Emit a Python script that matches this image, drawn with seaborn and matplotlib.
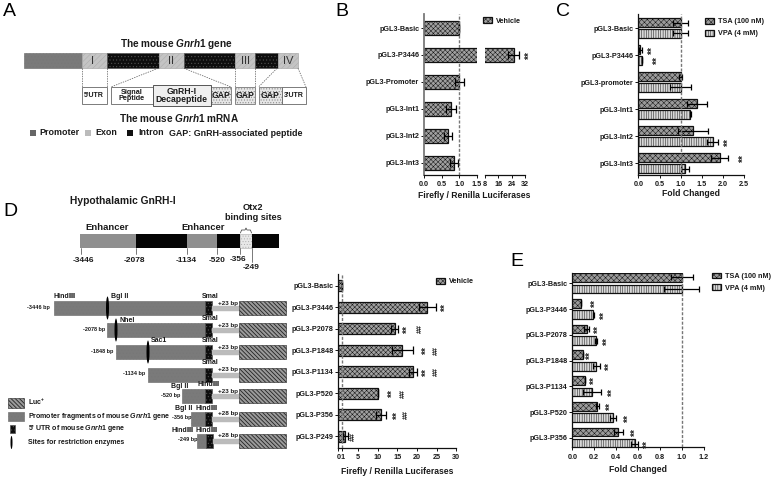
import matplotlib
matplotlib.use("Agg")
import matplotlib.pyplot as plt
from matplotlib.patches import Rectangle, Ellipse
import seaborn as sns
import pandas as pd

W, H = 773, 480

# ---------- data ----------
b_labels = ["pGL3-Basic", "pGL3-P3446", "pGL3-Promoter", "pGL3-Int1", "pGL3-Int2", "pGL3-Int3"]
b_vals = [1.0, 25.2, 1.0, 0.77, 0.69, 0.85]
b_errs = [0.0, 3.4, 0.13, 0.13, 0.12, 0.12]

c_labels = ["pGL3-Basic", "pGL3-P3446", "pGL3-promoter", "pGL3-Int1", "pGL3-Int2", "pGL3-Int3"]
c_tsa = [1.0, 0.05, 1.0, 1.39, 1.29, 1.92]
c_tsa_err = [0.17, 0.03, 0.03, 0.24, 0.35, 0.2]
c_vpa = [1.0, 0.09, 1.0, 1.23, 1.75, 1.1]
c_vpa_err = [0.17, 0.0, 0.25, 0.02, 0.12, 0.1]

d_labels = ["pGL3-Basic", "pGL3-P3446", "pGL3-P2078", "pGL3-P1848", "pGL3-P1134", "pGL3-P520", "pGL3-P356", "pGL3-P249"]
d_vals = [1.0, 22.6, 14.3, 16.3, 19.0, 10.0, 10.8, 1.8]
d_errs = [0.0, 2.2, 0.8, 2.7, 1.0, 0.0, 1.3, 0.7]

e_labels = ["pGL3-Basic", "pGL3-P3446", "pGL3-P2078", "pGL3-P1848", "pGL3-P1134", "pGL3-P520", "pGL3-P356"]
e_tsa = [1.0, 0.08, 0.13, 0.095, 0.12, 0.23, 0.42]
e_tsa_err = [0.1, 0.0, 0.02, 0.0, 0.0, 0.01, 0.04]
e_vpa = [1.0, 0.19, 0.215, 0.22, 0.18, 0.37, 0.57]
e_vpa_err = [0.16, 0.005, 0.01, 0.03, 0.08, 0.03, 0.03]

treatments = ["TSA (100 nM)", "VPA (4 mM)"]

# significance marks: (category index, series, x value)
c_marks = [(1, 0, 0.29), (1, 1, 0.41), (4, 1, 2.09), (5, 0, 2.43)]
d_stars = [(1, 26.7), (2, 17.0), (3, 21.9), (4, 21.9), (5, 13.3), (6, 14.6)]
d_hash = [(2, 20.9), (3, 25.0), (4, 25.0), (5, 16.5), (6, 17.3), (7, 3.9)]
e_marks = [(1, 0, 0.19), (1, 1, 0.28), (2, 0, 0.22), (2, 1, 0.30), (3, 0, 0.146), (3, 1, 0.32),
           (4, 0, 0.186), (4, 1, 0.35), (5, 0, 0.335), (5, 1, 0.50), (6, 0, 0.56), (6, 1, 0.67)]

# schematic A
gene_segments = [(24, 82, "promoter"), (82, 106.5, "exon"), (106.5, 159, "intron"), (159, 184, "exon"),
                 (184, 235, "intron"), (235, 254.5, "exon"), (254.5, 278, "intron"), (278, 298, "exon")]
exon_names = [("I", 93), ("II", 171), ("III", 245), ("IV", 288)]
mrna_boxes = [(81.5, 107, "5'UTR", 5.0, "white"), (111, 152.5, "Signal\nPeptide", 5.2, "white"),
              (211, 231, "GAP", 6.2, "dots"), (235, 255, "GAP", 6.2, "dots"),
              (258.5, 282, "GAP", 6.2, "dots"), (282, 306, "3'UTR", 5.0, "white")]
connectors = [(82, 82), (106.5, 106.5), (158, 111), (184, 231), (235, 235), (254.5, 254.5), (277, 258.5), (298, 306)]
a_legend = [(30, "#666666", "Promoter", 39), (85, "#bbbbbb", "Exon", 95), (127, "#111111", "Intron", 138)]

# schematic D (map)
map_segments = [(80, 135.5, "promoter"), (135.5, 187, "black"), (187, 217, "promoter"),
                (217, 240, "black"), (240, 251.5, "otx"), (251.5, 278.5, "black")]
map_ticks = [(80.5, 83, "-3446", 260), (135.5, 134, "-2078", 260), (187, 186, "-1134", 260),
             (217, 217, "-520", 260), (240, 238, "-356", 259.5), (251.5, 251, "-249", 267.5)]

# constructs: bar top, promoter start, label x, label text, plus text
constructs = [(301, 54, 50, "-3446 bp", "+23 bp"), (323, 107, 105, "-2078 bp", "+23 bp"),
              (345, 116, 113, "-1848 bp", "+23 bp"), (368, 148, 145, "-1134 bp", "+23 bp"),
              (389, 182, 180, "-520 bp", "+23 bp"), (412, 191, 191, "-356 bp", "+28 bp"),
              (434, 197, 197, "-249 bp", "+28 bp")]
enzymes = [(107.5, 308), (116, 330), (148, 352)]
site_labels = [("HindⅢ", 54, 297), ("Bgl II", 111, 297), ("SmaI", 201.5, 297),
               ("NheI", 119, 320), ("SmaI", 201.5, 319),
               ("Sac1", 151, 341), ("SmaI", 202, 341),
               ("SmaI", 202, 363),
               ("Bgl II", 171, 386), ("HindⅢ", 197, 385),
               ("Bgl II", 175, 408), ("HindⅢ", 196, 408),
               ("HindⅢ", 172, 430), ("HindⅢ", 196, 430)]

# ---------- style ----------
sns.set_theme(style="white")
plt.rcParams["font.family"] = ["Liberation Sans", "DejaVu Sans"]
plt.rcParams["font.weight"] = "bold"
plt.rcParams["mathtext.fontset"] = "custom"
plt.rcParams["mathtext.rm"] = "Liberation Sans:bold"
plt.rcParams["mathtext.it"] = "Liberation Sans:italic:bold"
plt.rcParams["mathtext.bf"] = "Liberation Sans:bold"
plt.rcParams["hatch.linewidth"] = 0.35
plt.rcParams["axes.labelweight"] = "bold"

fig = plt.figure(figsize=(W / 100, H / 100), dpi=100, facecolor="white")


def px_axes(x0, x1, ytop, ybot):
    return fig.add_axes([x0 / W, 1 - ybot / H, (x1 - x0) / W, (ybot - ytop) / H], facecolor="none")


TXT = "#1a1a1a"
ov = fig.add_axes([0, 0, 1, 1], zorder=-1)
ov.set_xlim(0, W)
ov.set_ylim(H, 0)
ov.axis("off")


def t(x, y, s, size=5.0, ha="left", va="center", weight="bold", **kw):
    ov.text(x, y, s, fontsize=size, ha=ha, va=va, fontweight=weight, color=kw.pop("color", TXT), **kw)


def box(x0, x1, y0, y1, kind="white", lw=0.5):
    styles = {
        "white": dict(fc="white", ec="#666666"),
        "dots": dict(fc="#e6e6e6", ec="#777777", hatch="......"),
        "light": dict(fc="#efefef", ec="#555555"),
        "promoter": dict(fc="#7a7a7a", ec="#777777", hatch="....."),
        "exon": dict(fc="#c4c4c4", ec="#aaaaaa", hatch="//////"),
        "intron": dict(fc="#0d0d0d", ec="#555555", hatch="....."),
        "black": dict(fc="#050505", ec="#050505"),
        "otx": dict(fc="#e8e8e8", ec="#aaaaaa", hatch="......"),
        "luc": dict(fc="#9a9a9a", ec="#222222", hatch="\\\\\\\\\\\\\\\\"),
        "grayband": dict(fc="#bcbcbc", ec="#bbbbbb", hatch="------"),
    }
    st = styles[kind]
    p = Rectangle((x0, y0), x1 - x0, y1 - y0, lw=lw, fill=True, **st)
    if kind == "luc" and hasattr(p, "set_hatch_linewidth"):
        p.set_hatch_linewidth(0.6)
    ov.add_patch(p)


# Panel letters
for letter, x, y in [("A", 3, 12), ("B", 335, 12), ("C", 556, 12), ("D", 3, 212), ("E", 510, 262)]:
    t(x, y, letter, size=14, weight="normal", color="black")

# ---------- Panel A ----------
t(176, 44, r"The mouse $\mathit{Gnrh1}$ gene", size=7.2, ha="center")
for x0, x1, kind in gene_segments:
    box(x0, x1, 52.7, 68.3, kind)
for name, x in exon_names:
    t(x, 61, name, size=8, ha="center", weight="normal", color="#333333")
for xa, xb in connectors:
    ov.plot([xa, xb], [68.3, 87], color="#555555", lw=0.5, ls=(0, (2, 1.5)))
for x0, x1, s, fs, kind in mrna_boxes:
    box(x0, x1, 87, 104, kind, lw=0.6)
    t((x0 + x1) / 2, 95.5, s, size=fs, ha="center", linespacing=0.9)
box(152.5, 211, 85, 106, "light", lw=0.7)
t(181.5, 95.5, "GnRH-I\nDecapeptide", size=6.2, ha="center", linespacing=1.0)
t(179, 118, r"The mouse $\mathit{Gnrh1}$ mRNA", size=7.2, ha="center")
for x, c, s, tx in a_legend:
    ov.add_patch(Rectangle((x, 130), 6, 6, fc=c, ec="none"))
    t(tx, 132.5, s, size=6.4)
t(169, 133, "GAP: GnRH-associated peptide", size=6.4)

# ---------- Panel D schematics ----------
t(70, 201, "Hypothalamic GnRH-I", size=7.4)
for x0, x1, kind in map_segments:
    ov.add_patch(Rectangle((x0, 234), x1 - x0, 14, fc={"promoter": "#8f8f8f", "black": "#050505", "otx": "#e8e8e8"}[kind],
                           ec="#aaaaaa" if kind == "otx" else "none", lw=0.4, hatch="......" if kind == "otx" else None))
t(107.5, 228, "Enhancer", size=6.8, ha="center")
t(203, 228, "Enhancer", size=6.8, ha="center")
t(253, 208, "Otx2", size=6.6, ha="center")
t(253, 217, "binding sites", size=6.6, ha="center")
ov.plot([240.5, 241.5, 245, 246, 247, 250.5, 251.5], [233, 230, 230, 228, 230, 230, 233], color="#333333", lw=0.5)
for xt, xl, s, yl in map_ticks:
    ov.plot([xt, xt], [248, 254 if xl != 251 else 262], color="#444444", lw=0.5)
    t(xl, yl, s, size=6.0, ha="center")

for top, start, lx, ls_, plus in constructs:
    utr0 = 205 if start != 197 else 206
    box(start, utr0, top, top + 14, "promoter")
    box(utr0, utr0 + 6.5, top, top + 14, "intron")
    box(utr0 + 6.5, 238.5, top + 5, top + 10, "grayband", lw=0.3)
    box(238.5, 285.5, top, top + 14, "luc", lw=0.4)
    t(lx, top + 6, ls_, size=4.0, ha="right")
    t(218, top + 2, plus, size=4.5)
for x, y in enzymes:
    ov.add_patch(Ellipse((x, y), 3, 23, fc="black", ec="none", zorder=5))
for s, x, y in site_labels:
    t(x, y, s, size=5.0)
box(8, 24, 398, 408, "luc", lw=0.4)
box(8, 24, 412, 421, "promoter")
box(10, 15, 425, 433, "intron")
ov.add_patch(Ellipse((11.5, 442.5), 2, 13, fc="black", ec="none"))
t(28, 402, "Luc$^{+}$", size=5)
t(28, 416, r"Promoter fragments of mouse $\mathit{Gnrh1}$ gene", size=5)
t(28, 429, r"5' UTR of mouse $\mathit{Gnrh1}$ gene", size=5)
t(28, 442, "Sites for restriction enzymes", size=5)


# ---------- bar panels ----------
def style_axes(ax, spine="#111111", lw=0.9):
    sns.despine(ax=ax)
    for s in ("left", "bottom"):
        ax.spines[s].set_color(spine)
        ax.spines[s].set_linewidth(lw)
    ax.tick_params(axis="y", length=2.2, width=0.7, labelsize=5.2, pad=1.2, color="#111111", labelcolor=TXT, left=True)
    ax.tick_params(axis="x", length=2.2, width=0.7, labelsize=5.2, pad=2.4, color="#111111", labelcolor=TXT, bottom=True)
    ax.set_ylabel("")
    ax.set_xlabel("")


def single_panel(ax, labels, vals, width):
    df = pd.DataFrame({"construct": labels, "value": vals, "group": "Vehicle"})
    sns.barplot(data=df, y="construct", x="value", hue="group", palette=["#a0a0a0"], orient="h", dodge=False,
                width=width, ax=ax, edgecolor="#111111", linewidth=0.9, hatch="xxxxxxx", errorbar=None, legend=False)


def paired_panel(ax, labels, tsa, vpa, width, gap):
    df = pd.DataFrame({"construct": labels * 2, "value": list(tsa) + list(vpa),
                       "treatment": [treatments[0]] * len(labels) + [treatments[1]] * len(labels)})
    sns.barplot(data=df, y="construct", x="value", hue="treatment", hue_order=treatments,
                palette=["#9a9a9a", "#d8d8d8"], orient="h", width=width, gap=gap, ax=ax,
                edgecolor="#111111", linewidth=0.9, errorbar=None, legend=False)
    for cont, h in zip(ax.containers, ["xxxxxx", "|||||||"]):
        for bar in cont:
            bar.set_hatch(h)


def add_err(ax, cont, vals, errs, cap=2.3):
    ys = [b.get_y() + b.get_height() / 2 for b in cont]
    ax.errorbar(vals, ys, xerr=errs, fmt="none", ecolor="black", elinewidth=0.9, capsize=cap, capthick=0.9, zorder=6)


def star(ax, x, y, s="**"):
    # asterisks sit high in the line box, which lands to the left once rotated
    ax.annotate(s, (x, y), xytext=(1.6 if s == "**" else 0, 0), textcoords="offset points", rotation=90,
                ha="center", va="center", fontsize=7.2 if s == "**" else 5.8, color="#222222",
                annotation_clip=False)


def ref_line(ax, x=1.0, lw=1.0):
    ax.axvline(x, color="#777777", lw=lw, ls=(0, (2.2, 1.2)), zorder=7)


def swatch_legend(ax, handles, names, x, y):
    fig.legend(handles, names, loc="upper left", bbox_to_anchor=(x / W, 1 - y / H), frameon=False, fontsize=5.2,
               borderpad=0, borderaxespad=0, handlelength=1.25, handleheight=0.9, handletextpad=0.55, labelspacing=0.62,
               labelcolor=TXT)


LABEL_SIZE = 6.2

# Panel B: broken axis
bl = px_axes(424, 476.7, 14, 174.5)
br = px_axes(485, 525, 14, 174.5)
single_panel(bl, b_labels, b_vals, 0.52)
single_panel(br, b_labels, b_vals, 0.52)
for ax in (bl, br):
    ax.set_ylim(5.44, -0.52)
style_axes(bl, spine="#7a7a7a", lw=1.3)
style_axes(br)
bl.spines["bottom"].set_color("#111111")
bl.spines["bottom"].set_linewidth(0.9)
bl.set_xlim(0, 1.5)
bl.set_xticks([0, 0.5, 1.0, 1.5])
bl.set_xticklabels(["0.0", "0.5", "1.0", "1.5"])
br.set_xlim(8, 32)
br.set_xticks([8, 16, 24, 32])
br.spines["left"].set_visible(False)
br.tick_params(axis="y", left=False, labelleft=False)
add_err(bl, bl.containers[0], [v if v < 2 else float("nan") for v in b_vals], b_errs, cap=3.0)
add_err(br, br.containers[0], [v if v > 2 else float("nan") for v in b_vals], b_errs, cap=3.0)
ref_line(bl)
star(br, 33.4, 1)
fig.text(474.5 / W, 1 - 195 / H, "Firefly / Renilla Luciferases", fontsize=LABEL_SIZE, ha="center", va="center", color=TXT)
swatch_legend(bl, [bl.containers[0][0]], ["Vehicle"], 483, 17.5)

# Panel C
c = px_axes(638.3, 744.3, 14, 175)
paired_panel(c, c_labels, c_tsa, c_vpa, 0.8, 0.2)
c.set_ylim(5.44, -0.52)
style_axes(c)
c.set_xlim(0, 2.5)
c.set_xticks([0, 0.5, 1.0, 1.5, 2.0, 2.5])
c.set_xticklabels(["0.0", "0.5", "1.0", "1.5", "2.0", "2.5"])
add_err(c, c.containers[0], c_tsa, c_tsa_err)
add_err(c, c.containers[1], c_vpa, c_vpa_err)
ref_line(c)
for i, s_i, x in c_marks:
    bar = c.containers[s_i][i]
    star(c, x, bar.get_y() + bar.get_height() / 2)
fig.text(691 / W, 1 - 194 / H, "Fold Changed", fontsize=LABEL_SIZE, ha="center", va="center", color=TXT)
swatch_legend(c, [c.containers[0][0], c.containers[1][0]], treatments, 705, 18)

# Panel D
d = px_axes(338.3, 456.3, 274, 448)
single_panel(d, d_labels, d_vals, 0.51)
d.set_ylim(7.55, -0.55)
style_axes(d)
d.set_xlim(0, 30)
d.set_xticks([0, 1, 5, 10, 15, 20, 25, 30])
add_err(d, d.containers[0], d_vals, d_errs, cap=2.6)
ref_line(d)
for i, x in d_stars:
    star(d, x, i)
for i, x in d_hash:
    star(d, x, i, "##")
fig.text(397.5 / W, 1 - 471 / H, "Firefly / Renilla Luciferases", fontsize=LABEL_SIZE, ha="center", va="center", color=TXT)
swatch_legend(d, [d.containers[0][0]], ["Vehicle"], 436, 278)

# Panel E
e = px_axes(572.3, 703.7, 272.7, 447.3)
paired_panel(e, e_labels, e_tsa, e_vpa, 0.9, 0.25)
e.set_ylim(6.37, -0.41)
style_axes(e)
e.set_xlim(0, 1.2)
e.set_xticks([0, 0.2, 0.4, 0.6, 0.8, 1.0, 1.2])
e.set_xticklabels(["0.0", "0.2", "0.4", "0.6", "0.8", "1.0", "1.2"])
add_err(e, e.containers[0], e_tsa, e_tsa_err)
add_err(e, e.containers[1], e_vpa, e_vpa_err)
ref_line(e)
for i, s_i, x in e_marks:
    bar = e.containers[s_i][i]
    star(e, x, bar.get_y() + bar.get_height() / 2)
fig.text(638 / W, 1 - 470 / H, "Fold Changed", fontsize=LABEL_SIZE, ha="center", va="center", color=TXT)
swatch_legend(e, [e.containers[0][0], e.containers[1][0]], treatments, 712, 272.5)

fig.savefig("out.png", dpi=100, facecolor="white")
